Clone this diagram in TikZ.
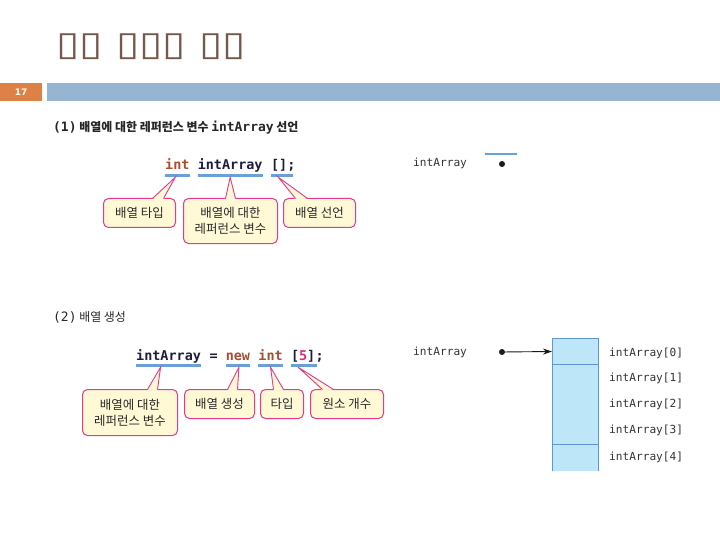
\documentclass[tikz,border=0pt]{standalone}
\usepackage{fontspec}
\usepackage{tikz}
\usetikzlibrary{arrows.meta,calc,positioning}

\newfontfamily\kr{Noto Sans CJK KR}
\newfontfamily\mono{DejaVu Sans Mono}
\newfontfamily\symf{DejaVu Sans}

\definecolor{titlec}{HTML}{76574C}
\definecolor{pgorange}{HTML}{DE8146}
\definecolor{barblue}{HTML}{95B5D3}
\definecolor{headc}{HTML}{262626}
\definecolor{codec}{HTML}{1E1E3C}
\definecolor{kwc}{HTML}{A64E32}
\definecolor{numc}{HTML}{E0287A}
\definecolor{ulc}{HTML}{6A9FD8}
\definecolor{callc}{HTML}{E8388A}
\definecolor{callfill}{HTML}{FFF9D6}
\definecolor{txtc}{HTML}{2A2A2A}
\definecolor{arrc}{HTML}{5E95D8}
\definecolor{arrfill}{HTML}{BDE6F9}
\definecolor{lblc}{HTML}{333333}
\definecolor{dotc}{HTML}{1A1A1A}

\begin{document}
\begin{tikzpicture}[x=1bp, y=-1bp,
    code/.style={font=\mono\bfseries\fontsize{13.5}{16}\selectfont, text=codec, inner sep=0pt, anchor=west, text height=10bp, text depth=3bp},
    uline/.style={draw=ulc, line width=3bp},
    callout/.style={draw=callc, fill=callfill, line width=1bp, rounded corners=5bp, align=center, inner sep=0pt, anchor=north west, text=txtc, font=\kr\fontsize{12.5}{16}\selectfont},
    ptr/.style={draw=callc, line width=0.9bp},
    lbl/.style={font=\mono\fontsize{11.2}{13}\selectfont, text=lblc, anchor=west, inner sep=0pt},
    dot/.style={circle, fill=dotc, inner sep=0pt, minimum size=6bp},
    cell/.style={draw=arrc, fill=arrfill, line width=1bp, inner sep=0pt, anchor=north west, minimum width=46bp}]
    \useasboundingbox (0,0) rectangle (720,540);

    % title and bar
    \node[anchor=west, inner sep=0pt, font=\symf\fontsize{34}{40}\selectfont, text=titlec] (title) at (56,47) {\scalebox{1.25}[1]{▯▯ ▯▯▯ ▯▯}};
    \fill[pgorange] (0,83) rectangle (42,101);
    \fill[barblue] (47,83) rectangle (720,101);
    \node[font=\symf\bfseries\fontsize{9}{10}\selectfont, text=white] (pg) at (21,92) {17};

    % (1)
    \node[anchor=west, inner sep=0pt, text=headc] (h1) at (53,128) {{\mono\bfseries\fontsize{13}{15}\selectfont (1)}{\kr\bfseries\fontsize{12}{15}\selectfont\ 배열에 대한 레퍼런스 변수 }{\mono\bfseries\fontsize{13}{15}\selectfont intArray}{\kr\bfseries\fontsize{12}{15}\selectfont\ 선언}};

    \node[code, text=kwc] (c1a) at (165,166.5) {int};
    \node[code] (c1b) at (197.6,166.5) {intArray};
    \node[code] (c1c) at (270.9,166.5) {[];};
    \draw[uline] ($(c1a.south west)+(0,2.5)$) -- ($(c1a.south east)+(0,2.5)$);
    \draw[uline] ($(c1b.south west)+(0,2.5)$) -- ($(c1b.south east)+(0,2.5)$);
    \draw[uline] ($(c1c.south west)+(0,2.5)$) -- ($(c1c.south east)+(-3,2.5)$);
    \coordinate (p1a) at ($(c1a.south)+(-2,4)$);
    \coordinate (p1b) at ($(c1b.south)+(0,4)$);
    \coordinate (p1c) at ($(c1c.south)+(-5,4)$);

    \node[callout, minimum width=72bp, minimum height=29bp] (k1a) at (103,198) {배열 타입};
    \node[callout, minimum width=94bp, minimum height=45bp] (k1b) at (183,198) {배열에 대한\\레퍼런스 변수};
    \node[callout, minimum width=72bp, minimum height=29bp] (k1c) at (283,198) {배열 선언};

    \fill[callfill] ($(k1a.north)+(13,1.5)$) -- (p1a) -- ($(k1a.north)+(24,1.5)$) -- cycle;
    \draw[ptr] ($(k1a.north)+(13,0.5)$) -- (p1a) -- ($(k1a.north)+(24,0.5)$);
    \fill[callfill] ($(k1b.north)+(-5,1.5)$) -- (p1b) -- ($(k1b.north)+(5,1.5)$) -- cycle;
    \draw[ptr] ($(k1b.north)+(-5,0.5)$) -- (p1b) -- ($(k1b.north)+(5,0.5)$);
    \fill[callfill] ($(k1c.north)+(-24,1.5)$) -- (p1c) -- ($(k1c.north)+(-12,1.5)$) -- cycle;
    \draw[ptr] ($(k1c.north)+(-24,0.5)$) -- (p1c) -- ($(k1c.north)+(-12,0.5)$);

    \node[lbl] (v1) at (413,163) {intArray};
    \node[dot] (d1) at (502,164) {};
    \draw[draw=ulc, line width=1.2bp] (485,154) -- (517,154);

    % (2)
    \node[anchor=west, inner sep=0pt, text=headc] (h2) at (53,317) {{\mono\fontsize{13}{15}\selectfont (2)}{\kr\fontsize{12}{15}\selectfont\ 배열 생성}};

    \node[code] (c2a) at (136,356.5) {intArray};
    \node[code] (c2b) at (209.3,356.5) {=};
    \node[code, text=kwc] (c2c) at (225.6,356.5) {new};
    \node[code, text=kwc] (c2d) at (258.2,356.5) {int};
    \node[code] (c2e) at (290.8,356.5) {[\textcolor{numc}{5}]};
    \node[code] (c2f) at (315.3,356.5) {;};
    \draw[uline] ($(c2a.south west)+(0,2.5)$) -- ($(c2a.south east)+(0,2.5)$);
    \draw[uline] ($(c2c.south west)+(0,2.5)$) -- ($(c2c.south east)+(0,2.5)$);
    \draw[uline] ($(c2d.south west)+(0,2.5)$) -- ($(c2d.south east)+(0,2.5)$);
    \draw[uline] ($(c2e.south west)+(0,2.5)$) -- ($(c2e.south east)+(2,2.5)$);
    \coordinate (p2a) at ($(c2a.south)+(-8,4)$);
    \coordinate (p2b) at ($(c2c.south)+(1,4)$);
    \coordinate (p2c) at ($(c2d.south)+(0,4)$);
    \coordinate (p2d) at ($(c2e.south)+(-5,4)$);

    \node[callout, minimum width=95bp, minimum height=46bp] (k2a) at (82,389) {배열에 대한\\레퍼런스 변수};
    \node[callout, minimum width=70bp, minimum height=29bp] (k2b) at (184,389) {배열 생성};
    \node[callout, minimum width=43bp, minimum height=29bp] (k2c) at (260,389) {타입};
    \node[callout, minimum width=73bp, minimum height=29bp] (k2d) at (310,389) {원소 개수};

    \fill[callfill] ($(k2a.north)+(17.5,1.5)$) -- (p2a) -- ($(k2a.north)+(27.5,1.5)$) -- cycle;
    \draw[ptr] ($(k2a.north)+(17.5,0.5)$) -- (p2a) -- ($(k2a.north)+(27.5,0.5)$);
    \fill[callfill] ($(k2b.north)+(8,1.5)$) -- (p2b) -- ($(k2b.north)+(18,1.5)$) -- cycle;
    \draw[ptr] ($(k2b.north)+(8,0.5)$) -- (p2b) -- ($(k2b.north)+(18,0.5)$);
    \fill[callfill] ($(k2c.north)+(-8.5,1.5)$) -- (p2c) -- ($(k2c.north)+(1.5,1.5)$) -- cycle;
    \draw[ptr] ($(k2c.north)+(-8.5,0.5)$) -- (p2c) -- ($(k2c.north)+(1.5,0.5)$);
    \fill[callfill] ($(k2d.north)+(-24.5,1.5)$) -- (p2d) -- ($(k2d.north)+(-13.5,1.5)$) -- cycle;
    \draw[ptr] ($(k2d.north)+(-24.5,0.5)$) -- (p2d) -- ($(k2d.north)+(-13.5,0.5)$);

    % array
    \node[lbl] (v2) at (413,352) {intArray};
    \node[dot] (d2) at (502,352) {};
    \node[cell, minimum height=26bp] (a0) at (552,338) {};
    \node[cell, minimum height=80bp] (a1) at (552,364) {};
    \fill[arrfill] (552,444) rectangle (598,471);
    \draw[draw=arrc, line width=1bp] (552,471) -- (552,444) -- (598,444) -- (598,471);
    \draw[-{Stealth[length=9bp,width=6bp]}, line width=0.9bp, draw=dotc] (d2) -- (a0.west);

    \node[lbl] (e0) at (609,353) {intArray[0]};
    \node[lbl] (e1) at (609,378) {intArray[1]};
    \node[lbl] (e2) at (609,404) {intArray[2]};
    \node[lbl] (e3) at (609,430) {intArray[3]};
    \node[lbl] (e4) at (609,457) {intArray[4]};
\end{tikzpicture}
\end{document}
